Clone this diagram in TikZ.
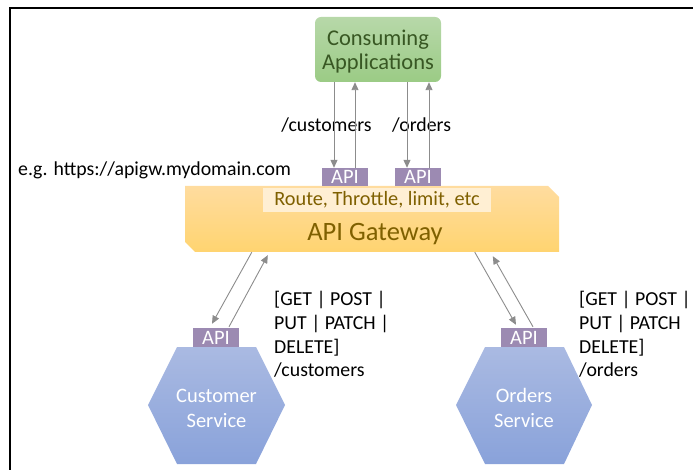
\documentclass[tikz,border=0pt]{standalone}
\usepackage{fontspec}
\setmainfont{Carlito}
\usetikzlibrary{arrows.meta}
\definecolor{consTop}{HTML}{B7D8A9}
\definecolor{consBot}{HTML}{9BCB85}
\definecolor{consText}{HTML}{385723}
\definecolor{gwTop}{HTML}{FFDC9F}
\definecolor{gwBot}{HTML}{FFD470}
\definecolor{gwText}{HTML}{7F6000}
\definecolor{routeFill}{HTML}{FFEFD3}
\definecolor{apiPurple}{HTML}{9C8AB2}
\definecolor{hexTop}{HTML}{AABAE2}
\definecolor{hexBot}{HTML}{89A2DA}
\definecolor{arrGray}{HTML}{8C8C8C}
\tikzset{
  arr/.style={draw=arrGray, line width=0.9pt, -{Triangle[length=8pt,width=7pt]}},
  apibox/.style={fill=apiPurple, text=white, minimum width=46pt, minimum height=18pt, inner sep=0pt, font=\fontsize{20.5}{22}\selectfont},
  body/.style={font=\fontsize{19.8}{23.8}\selectfont, inner sep=0pt, text=black},
  consbox/.style={rounded corners=6pt, minimum width=126pt, minimum height=65pt, inner sep=0pt,
    top color=consTop, bottom color=consBot, text=consText, align=center,
    font=\fontsize{22.5}{24}\selectfont, text depth=0pt},
  hexshade/.style={top color=hexTop, bottom color=hexBot},
  hextext/.style={text=white, align=center, font=\fontsize{20.5}{25}\selectfont, inner sep=0pt},
}
\begin{document}
\begin{tikzpicture}[x=1pt,y=-1pt]
\useasboundingbox (0,0) rectangle (693,470);
% frame
\draw[line width=2.8pt] (10,470) -- (10,8) -- (693,8);

% consuming applications
\node[consbox] (cons) at (378,49.5) {Consuming\\Applications};

% gateway
\shade[top color=gwTop, bottom color=gwBot] (185,186) -- (548,186) -- (559,197) -- (559,252) -- (195,252) -- (185,242) -- cycle;
\node[minimum width=374pt, minimum height=66pt, inner sep=0pt] (gwbox) at (372,219) {};
\node[fill=routeFill, minimum width=228pt, minimum height=24pt, inner sep=0pt, text=gwText,
  font=\fontsize{20.3}{22}\selectfont] (route) at (377,200) {Route, Throttle, limit, etc};
\node[anchor=base, inner sep=0pt, text=gwText, font=\fontsize{26.5}{28}\selectfont] (gw) at (375,240.7) {API Gateway};

% API boxes on gateway
\node[apibox] (api1) at (345,177) {API};
\node[apibox] (api2) at (418,177) {API};

% hexagons
\shade[hexshade] (148,405) -- (177,347) -- (256,347) -- (285,405) -- (256,464) -- (177,464) -- cycle;
\shade[hexshade] (456,405) -- (485,347) -- (564,347) -- (592,405) -- (564,464) -- (485,464) -- cycle;
\node[hextext] (cust) at (216.5,408) {Customer\\Service};
\node[hextext] (ord) at (524,408) {Orders\\Service};
\node[apibox, minimum height=19pt] (capi) at (216,337.5) {API};
\node[apibox, minimum height=19pt] (oapi) at (524,337.5) {API};

% labels
\node[body, anchor=base west] (url) at (18,176) {e.g. https://apigw.mydomain.com};
\node[body, anchor=base] (lcust) at (326.5,132) {/customers};
\node[body, anchor=base] (lord) at (421.5,132) {/orders};
\node[body, anchor=north west, align=left] (mcust) at (274,291) {[GET | POST |\\PUT | PATCH |\\DELETE]\\/customers};
\node[body, anchor=north west, align=left] (mord) at (579,291) {[GET | POST |\\PUT | PATCH\\DELETE]\\/orders};

% top connectors
\coordinate (d1) at ([xshift=-11pt]api1.north);
\coordinate (u1) at ([xshift=10pt]api1.north);
\coordinate (d2) at ([xshift=-11pt]api2.north);
\coordinate (u2) at ([xshift=11pt]api2.north);
\draw[arr] (cons.south -| d1) -- (d1);
\draw[arr] (u1) -- (cons.south -| u1);
\draw[arr] (cons.south -| d2) -- (d2);
\draw[arr] (u2) -- (cons.south -| u2);

% bottom connectors
\draw[arr] ([xshift=67pt]gwbox.south west) -- ([xshift=-4pt,yshift=4pt]capi.north);
\draw[arr] ([xshift=13pt,yshift=1pt]capi.north) -- ([xshift=83pt,yshift=-3pt]gwbox.south west);
\draw[arr] ([xshift=290pt]gwbox.south west) -- ([xshift=-8pt,yshift=3pt]oapi.north);
\draw[arr] ([xshift=9pt,yshift=1pt]oapi.north) -- ([xshift=308pt,yshift=-4pt]gwbox.south west);
\end{tikzpicture}
\end{document}
